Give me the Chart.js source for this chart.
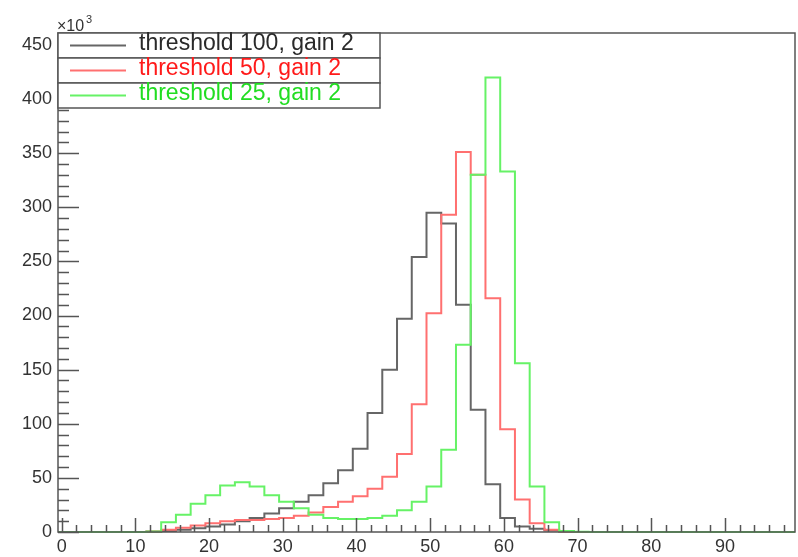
<!DOCTYPE html>
<html>
<head>
<meta charset="utf-8">
<script src="https://cdn.jsdelivr.net/npm/chart.js@4.4.0/dist/chart.umd.min.js"></script>
<style>
  html, body { margin: 0; padding: 0; background: #fff; }
</style>
</head>
<body>
<canvas id="myChart" width="798" height="557"></canvas>
<script>
// histogram binning: 50 bins of width 2 from -0.5 to 99.5
const xMin = -0.5;
const xMax = 99.5;
const binWidth = 2;
const yMax = 461;

// tick labels
const xTicks = [0, 10, 20, 30, 40, 50, 60, 70, 80, 90];
const yTicks = [0, 50, 100, 150, 200, 250, 300, 350, 400, 450];

const labels = ["threshold 100, gain 2", "threshold 50, gain 2", "threshold 25, gain 2"];

// counts per bin (x10^3)
const thr100 = [0, 0, 0, 0, 0, 0, 0.3, 1, 2, 3.5,
  5, 7, 10, 13, 17, 22, 28, 34, 45, 57,
  77, 110, 150, 197, 254, 295, 285, 210, 113, 44,
  13, 5, 3, 1.5, 0.5, 0, 0, 0, 0, 0,
  0, 0, 0, 0, 0, 0, 0, 0, 0, 0];
const thr50 = [0, 0, 0, 0, 0, 0, 0.5, 2, 4, 6,
  8, 10, 11, 11, 12, 13, 15, 18, 23, 28,
  33, 40, 51, 72, 118, 202, 293, 351, 330, 216,
  95, 30, 8, 2, 0.5, 0, 0, 0, 0, 0,
  0, 0, 0, 0, 0, 0, 0, 0, 0, 0];
const thr25 = [0, 0, 0, 0, 0, 0, 0.5, 9, 16, 26,
  34, 43, 46, 42, 34, 28, 22, 16, 13, 12,
  12, 13, 15, 20, 28, 42, 76, 173, 330, 420,
  333, 156, 42, 9, 1, 0.3, 0, 0, 0, 0,
  0, 0, 0, 0, 0, 0, 0, 0, 0, 0];

const lineColors = ["#666666", "#ff7070", "#66f266"];
const textColors = ["#2a2a2a", "#ff1a1a", "#22dd22"];

// bin lower edge -> value, plus closing point at the last edge
function histo(vals) {
  let pts = vals.map((v, i) => ({ x: xMin + i * binWidth, y: v }));
  pts.push({ x: xMin + vals.length * binWidth, y: vals[vals.length - 1] });
  return pts;
}

// frame + inward ticks, ROOT style
const marco = {
  id: "marco",
  afterDraw(chart) {
    const { ctx, chartArea: a, scales } = chart;
    const x = scales.x, y = scales.y;
    ctx.save();
    ctx.strokeStyle = "#555";
    ctx.lineWidth = 1.5;
    ctx.strokeRect(a.left, a.top, a.right - a.left, a.bottom - a.top);
    ctx.beginPath();
    for (let v = 0; v <= 98; v += 2) {
      const px = Math.round(x.getPixelForValue(v)) + 0.5;
      const len = v % 10 === 0 ? 14 : 7;
      ctx.moveTo(px, a.bottom);
      ctx.lineTo(px, a.bottom - len);
    }
    for (let v = 0; v <= yMax; v += 10) {
      const py = Math.round(y.getPixelForValue(v)) + 0.5;
      const len = v % 50 === 0 ? 21 : 11;
      ctx.moveTo(a.left, py);
      ctx.lineTo(a.left + len, py);
    }
    ctx.stroke();
    // exponent label
    ctx.fillStyle = "#333";
    ctx.font = "16px 'Liberation Sans', Arial, sans-serif";
    ctx.textBaseline = "alphabetic";
    ctx.fillText("\u00d710", 57, 31);
    ctx.font = "11px 'Liberation Sans', Arial, sans-serif";
    ctx.fillText("3", 86, 23);
    ctx.restore();
  }
};

// legend boxes over the plot
const leyenda = {
  id: "leyenda",
  afterDraw(chart) {
    const { ctx, chartArea: a } = chart;
    const x0 = a.left, x1 = 380, rowH = 25;
    ctx.save();
    chart.data.datasets.forEach((ds, i) => {
      const top = a.top + i * rowH;
      ctx.fillStyle = "#fff";
      ctx.fillRect(x0, top, x1 - x0, rowH);
      ctx.strokeStyle = "#555";
      ctx.lineWidth = 1.5;
      ctx.strokeRect(x0, top, x1 - x0, rowH);
      ctx.strokeStyle = ds.borderColor;
      ctx.lineWidth = 2;
      ctx.beginPath();
      ctx.moveTo(70, top + 12.5);
      ctx.lineTo(126, top + 12.5);
      ctx.stroke();
      ctx.fillStyle = textColors[i];
      ctx.font = "23px 'Liberation Sans', Arial, sans-serif";
      ctx.textBaseline = "alphabetic";
      ctx.fillText(ds.label, 139, top + 16.5);
    });
    ctx.restore();
  }
};

const series = [thr100, thr50, thr25];
const ctx = document.getElementById("myChart").getContext("2d");
const myChart = new Chart(ctx, {
  type: "line",
  data: {
    datasets: series.map((s, i) => ({
      label: labels[i],
      data: histo(s),
      borderColor: lineColors[i],
      borderWidth: 2,
      stepped: true,
      pointRadius: 0,
      fill: false,
      clip: 4,
      order: 2 - i
    }))
  },
  options: {
    responsive: false,
    animation: false,
    devicePixelRatio: 1,
    layout: { padding: { top: 33, right: 3, left: 0, bottom: 0 } },
    plugins: { legend: { display: false }, tooltip: { enabled: false } },
    scales: {
      x: {
        type: "linear",
        min: xMin,
        max: xMax,
        grid: { display: false, drawTicks: false, tickLength: 0 },
        border: { display: false },
        ticks: { color: "#333", padding: 4, font: { size: 18, family: "'Liberation Sans', Arial, sans-serif" } },
        afterBuildTicks: (s) => { s.ticks = xTicks.map((v) => ({ value: v })); },
        afterFit: (s) => { s.height = 25; }
      },
      y: {
        min: 0,
        max: yMax,
        grid: { display: false, drawTicks: false, tickLength: 0 },
        border: { display: false },
        ticks: { color: "#333", padding: 6, font: { size: 18, family: "'Liberation Sans', Arial, sans-serif" } },
        afterBuildTicks: (s) => { s.ticks = yTicks.map((v) => ({ value: v })); },
        afterFit: (s) => { s.width = 58; }
      }
    }
  },
  plugins: [marco, leyenda]
});
</script>
</body>
</html>
